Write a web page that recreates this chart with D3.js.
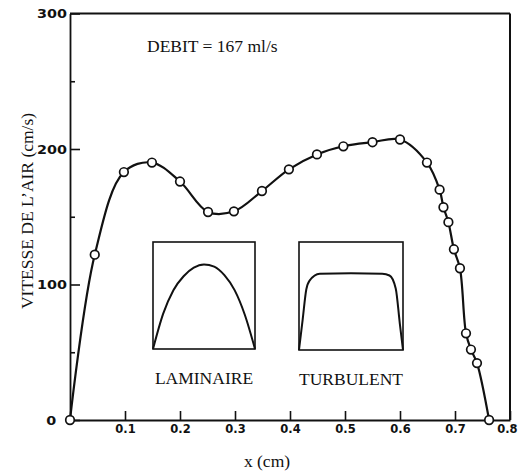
<!DOCTYPE html>
<html lang="fr">
<head>
    <meta charset="UTF-8">
    <title>Vitesse de l'air</title>
    <style>
        body { margin: 0; background: #fff; }
        .serif { font-family: "Liberation Serif", "Times New Roman", serif; fill: #111; }
    </style>
</head>
<body>
<script src="https://d3js.org/d3.v7.min.js"></script>
<script>
    // mesures : position x (cm) et vitesse (cm/s)
    var xPos = [0, 0.045, 0.098, 0.149, 0.2, 0.251, 0.298, 0.349, 0.398, 0.449, 0.497, 0.55,
                0.6, 0.649, 0.672, 0.679, 0.688, 0.698, 0.709, 0.72, 0.729, 0.74, 0.762];
    var vitesse = [0, 122, 183, 190, 176, 153.5, 154, 169, 185, 196, 202, 205,
                   207, 190, 170, 157, 146, 126, 112, 64, 52, 42, 0];

    var xTicks = [0.1, 0.2, 0.3, 0.4, 0.5, 0.6, 0.7, 0.8];
    var xTickLabels = ["0.1", "0.2", "0.3", "0.4", "0.5", "0.6", "0.7", "0.8"];
    var yTicks = [0, 100, 200, 300];
    var yMinorTicks = [50, 150, 250];

    // profils schematiques (position relative, vitesse relative)
    var lamX = [0, 0.1, 0.2, 0.3, 0.4, 0.5, 0.6, 0.7, 0.8, 0.9, 1];
    var lamU = [0, 0.33, 0.55, 0.68, 0.76, 0.79, 0.77, 0.69, 0.55, 0.32, 0];
    var turbX = [0, 0.035, 0.07, 0.1, 0.2, 0.5, 0.8, 0.87, 0.93, 0.97, 1];
    var turbU = [0, 0.28, 0.56, 0.64, 0.705, 0.71, 0.705, 0.69, 0.57, 0.24, 0];

    var svg = d3.select("body")
                .append("svg")
                .attr("width", 518)
                .attr("height", 473);

    var x = d3.scaleLinear().domain([0, 0.8]).range([70, 510]);
    var y = d3.scaleLinear().domain([0, 300]).range([420, 13.5]);

    // axe x, graduations vers le haut
    var xAxis = svg.append("g")
        .attr("transform", "translate(0," + y(0) + ")")
        .call(d3.axisBottom(x).tickValues(xTicks)
            .tickFormat(function (d, i) { return xTickLabels[i]; })
            .tickSizeInner(-9).tickSizeOuter(0).tickPadding(5));

    var yAxis = svg.append("g")
        .attr("transform", "translate(" + x(0) + ",0)")
        .call(d3.axisLeft(y).tickValues(yTicks)
            .tickSizeInner(-10).tickSizeOuter(0).tickPadding(2));

    svg.append("g")
        .attr("transform", "translate(" + x(0) + ",0)")
        .call(d3.axisLeft(y).tickValues(yMinorTicks)
            .tickFormat("").tickSizeInner(-5).tickSizeOuter(0))
        .select(".domain").remove();

    svg.selectAll("g .domain").attr("stroke", "#111").attr("stroke-width", 1.8);
    svg.selectAll("g .tick line").attr("stroke", "#111").attr("stroke-width", 1.6);
    svg.selectAll("g .tick text")
        .attr("font-family", "DejaVu Sans, sans-serif")
        .attr("font-weight", "bold")
        .attr("font-size", 11.5)
        .attr("fill", "#111");
    yAxis.selectAll(".tick text")
        .attr("dy", "0.35em")
        .attr("transform", "scale(1.25,1)")
        .attr("x", function (d) { return d === 0 ? -11 : -2.4; });
    // le dernier libelle x colle au bord droit
    xAxis.selectAll(".tick text")
        .filter(function (d) { return d === 0.8; })
        .attr("text-anchor", "end")
        .attr("x", 7);

    // cadre haut et droit
    svg.append("line")
        .attr("x1", x(0)).attr("y1", y(300))
        .attr("x2", x(0.8)).attr("y2", y(300))
        .attr("stroke", "#111").attr("stroke-width", 2);
    svg.append("line")
        .attr("x1", x(0.8)).attr("y1", y(300))
        .attr("x2", x(0.8)).attr("y2", y(0))
        .attr("stroke", "#111").attr("stroke-width", 2);

    // courbe
    var pts = xPos.map(function (d, i) { return [d, vitesse[i]]; });
    var line = d3.line()
        .x(function (d) { return x(d[0]); })
        .y(function (d) { return y(d[1]); })
        .curve(d3.curveCatmullRom.alpha(0.5));

    svg.append("path")
        .datum(pts)
        .attr("d", line)
        .attr("fill", "none")
        .attr("stroke", "#111")
        .attr("stroke-width", 2.2);

    svg.selectAll("circle.pt")
        .data(pts)
        .enter().append("circle")
        .attr("class", "pt")
        .attr("cx", function (d) { return x(d[0]); })
        .attr("cy", function (d) { return y(d[1]); })
        .attr("r", 4.3)
        .attr("fill", "#fff")
        .attr("stroke", "#111")
        .attr("stroke-width", 1.7);

    // encarts des profils
    function inset(x0, y0, w, h, px, pu, label) {
        var g = svg.append("g");
        var sx = d3.scaleLinear().domain([0, 1]).range([x0, x0 + w]);
        var sy = d3.scaleLinear().domain([0, 1]).range([y0 + h, y0]);
        g.append("rect")
            .attr("x", x0).attr("y", y0)
            .attr("width", w).attr("height", h)
            .attr("fill", "none").attr("stroke", "#111").attr("stroke-width", 1.6);
        g.append("path")
            .datum(px.map(function (d, i) { return [d, pu[i]]; }))
            .attr("d", d3.line()
                .x(function (d) { return sx(d[0]); })
                .y(function (d) { return sy(d[1]); })
                .curve(d3.curveMonotoneX))
            .attr("fill", "none").attr("stroke", "#111").attr("stroke-width", 2);
        g.append("text")
            .attr("class", "serif")
            .attr("x", x0 + w / 2).attr("y", y0 + h + 35)
            .attr("text-anchor", "middle")
            .attr("font-size", 17.5)
            .text(label);
    }
    inset(153, 242, 102, 107, lamX, lamU, "LAMINAIRE");
    inset(299, 242, 104, 108, turbX, turbU, "TURBULENT");

    // textes
    svg.append("text")
        .attr("class", "serif")
        .attr("x", 147).attr("y", 52)
        .attr("font-size", 17.5)
        .text("DEBIT = 167 ml/s");

    svg.append("text")
        .attr("class", "serif")
        .attr("x", 267).attr("y", 467)
        .attr("text-anchor", "middle")
        .attr("font-size", 17.5)
        .text("x (cm)");

    svg.append("text")
        .attr("class", "serif")
        .attr("transform", "translate(33,211) rotate(-90)")
        .attr("text-anchor", "middle")
        .attr("font-size", 17.5)
        .text("VITESSE DE L\u2019AIR (cm/s)");
</script>
</body>
</html>
